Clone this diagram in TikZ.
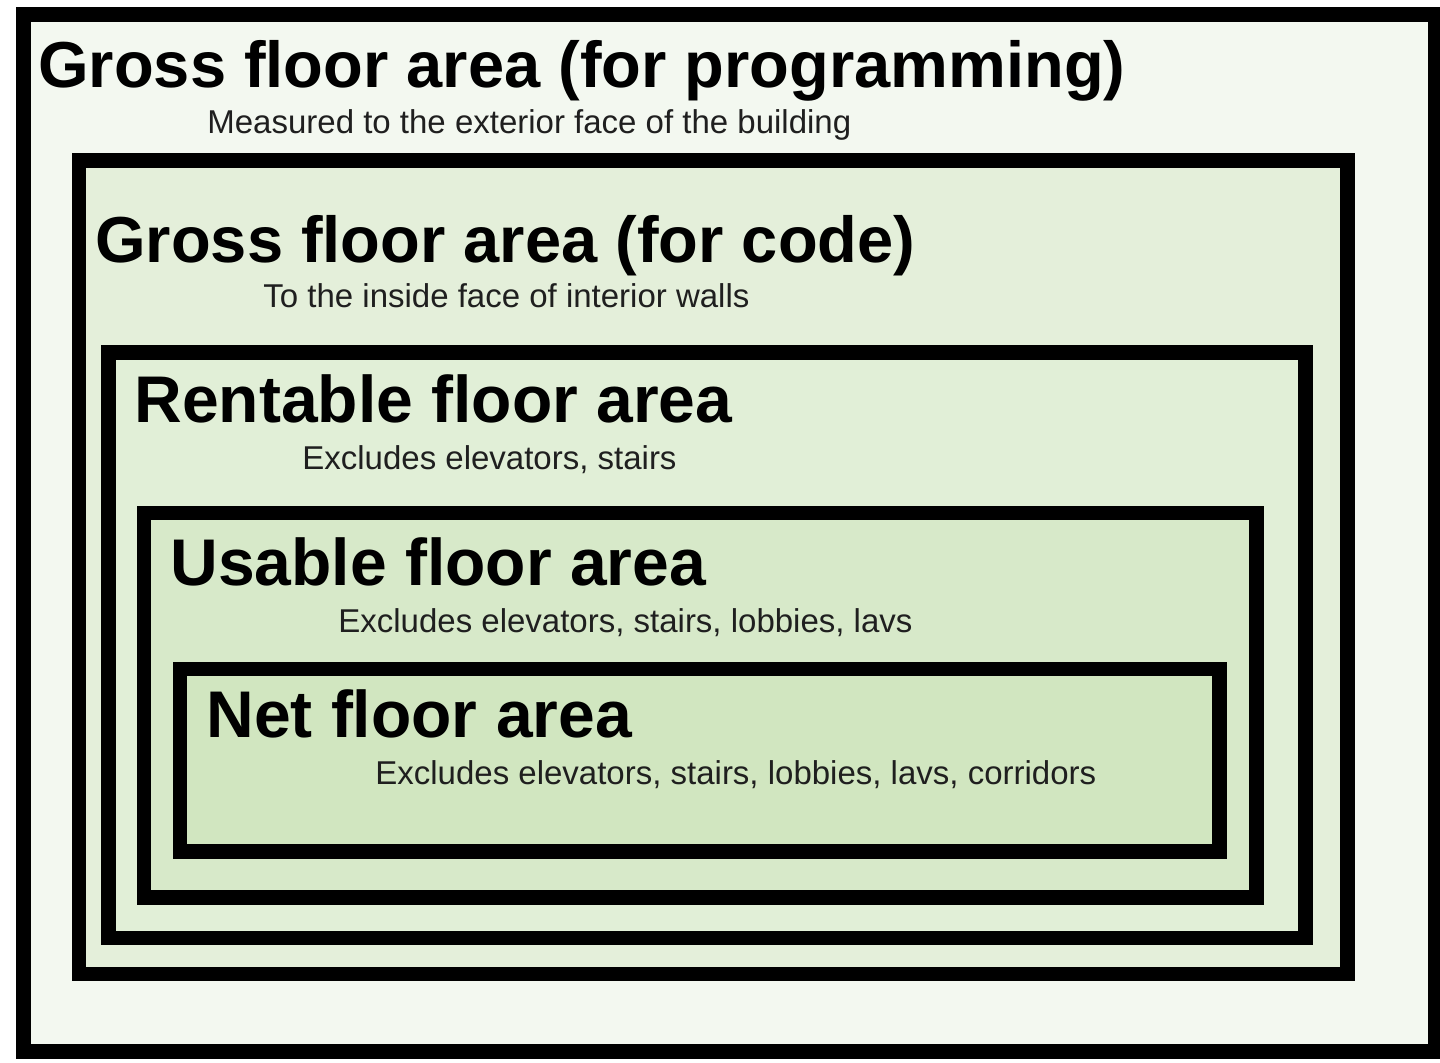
\documentclass[tikz,border=0pt]{standalone}
\usepackage{fontspec}
\setmainfont{Liberation Sans}
\definecolor{fillA}{HTML}{F3F8F0}
\definecolor{fillB}{HTML}{E4EFDA}
\definecolor{fillC}{HTML}{E1EFD7}
\definecolor{fillD}{HTML}{D7E9C9}
\definecolor{fillE}{HTML}{D1E6C0}
\tikzset{
  areabox/.style={draw=black, line width=7.2pt},
  areatitle/.style={anchor=base west, inner sep=0pt, font=\fontsize{32.5}{36}\selectfont\bfseries},
  areatitlewide/.style={areatitle, font=\fontsize{33}{36}\selectfont\bfseries},
  areasub/.style={anchor=base west, inner sep=0pt, text=black!88, font=\fontsize{16.5}{19}\selectfont},
}
\begin{document}
\begin{tikzpicture}[x=0.5pt,y=-0.5pt]
\useasboundingbox (0,0) rectangle (1440,1062);
\fill[white] (0,0) rectangle (1440,1062);
\begin{scope}
\clip (0,0) rectangle (1440,1062);
\draw[areabox, line width=7.5pt, fill=fillA] (23.5,14.5) rectangle (1435.5,1051.5);
\end{scope}
\draw[areabox, fill=fillB] (79,160.5) rectangle (1347.5,974);
\draw[areabox, fill=fillC] (108.5,352.5) rectangle (1305.5,938);
\draw[areabox, fill=fillD] (144,513) rectangle (1256.5,897.5);
\draw[areabox, fill=fillE] (180,669) rectangle (1219.5,851.5);

\node[areatitle] (t1) at (38,87) {Gross floor area (for programming)};
\node[areasub] (s1) at (207,133) {Measured to the exterior face of the building};
\node[areatitle] (t2) at (95,262) {Gross floor area (for code)};
\node[areasub] (s2) at (263,307) {To the inside face of interior walls};
\node[areatitlewide] (t3) at (134,422) {Rentable floor area};
\node[areasub] (s3) at (302,469) {Excludes elevators, stairs};
\node[areatitlewide] (t4) at (170,585) {Usable floor area};
\node[areasub] (s4) at (338,632) {Excludes elevators, stairs, lobbies, lavs};
\node[areatitlewide] (t5) at (206,737) {Net floor area};
\node[areasub] (s5) at (375,784) {Excludes elevators, stairs, lobbies, lavs, corridors};
\end{tikzpicture}
\end{document}
